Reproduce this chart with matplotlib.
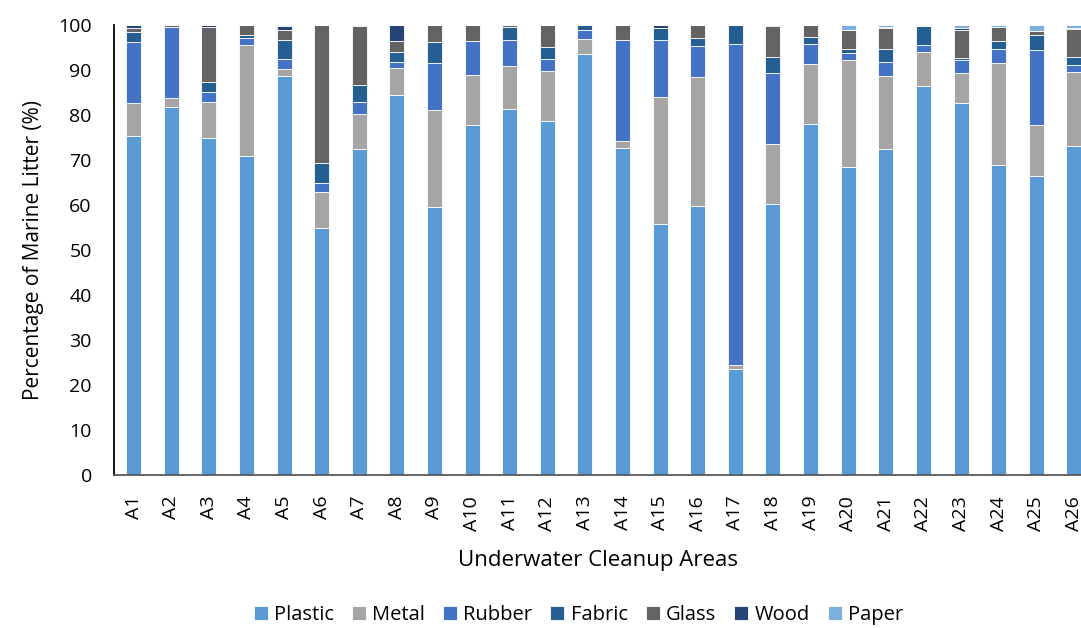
import matplotlib.pyplot as plt
import numpy as np

plt.rcParams["font.family"] = ["Open Sans", "DejaVu Sans"]

areas = ["A%d" % i for i in range(1, 27)]

plastic = [75.4, 81.7, 74.9, 71.0, 88.8, 54.8, 72.5, 84.5, 59.5, 77.7, 81.3, 78.6, 93.5,
           72.6, 55.9, 59.7, 23.5, 60.3, 78.1, 68.4, 72.4, 86.5, 82.6, 68.9, 66.4, 73.2]
metal = [7.2, 2.0, 8.0, 24.6, 1.4, 8.1, 7.8, 6.0, 21.7, 11.2, 9.6, 11.3, 3.4,
         1.7, 28.1, 28.7, 0.9, 13.3, 13.3, 23.8, 16.3, 7.5, 6.7, 22.7, 11.4, 16.3]
rubber = [13.7, 15.8, 2.2, 1.6, 2.3, 2.0, 2.6, 1.2, 10.3, 7.5, 5.8, 2.5, 2.0,
          22.5, 12.6, 7.0, 71.5, 15.7, 4.5, 1.5, 3.2, 1.6, 3.0, 3.2, 16.6, 1.6]
fabric = [2.1, 0.0, 2.2, 0.6, 4.3, 4.4, 3.7, 2.4, 4.7, 0.0, 2.9, 2.7, 1.1,
          0.0, 2.7, 1.8, 4.1, 3.7, 1.4, 0.9, 2.9, 4.2, 0.3, 1.6, 3.4, 1.9]
glass = [0.9, 0.5, 12.3, 2.2, 2.1, 30.7, 13.2, 2.3, 3.8, 3.6, 0.4, 4.9, 0.0,
         3.2, 0.0, 2.8, 0.0, 6.7, 2.7, 4.4, 4.5, 0.0, 6.4, 3.2, 0.9, 6.1]
wood = [0.7, 0.0, 0.4, 0.0, 0.8, 0.0, 0.0, 3.6, 0.0, 0.0, 0.0, 0.0, 0.0,
        0.0, 0.7, 0.0, 0.0, 0.3, 0.0, 0.0, 0.3, 0.0, 0.3, 0.0, 0.0, 0.3]
paper = [0.0, 0.0, 0.0, 0.0, 0.3, 0.0, 0.2, 0.0, 0.0, 0.0, 0.0, 0.0, 0.0,
         0.0, 0.0, 0.0, 0.0, 0.0, 0.0, 1.0, 0.4, 0.2, 0.7, 0.4, 1.3, 0.6]

series = [("Plastic", plastic, "#5B9BD5"),
          ("Metal", metal, "#A5A5A5"),
          ("Rubber", rubber, "#4472C4"),
          ("Fabric", fabric, "#255E91"),
          ("Glass", glass, "#636363"),
          ("Wood", wood, "#264478"),
          ("Paper", paper, "#7CAFDD")]

fig = plt.figure(figsize=(10.81, 6.28), dpi=100)
ax = fig.add_axes([0.1055, 0.2436, 0.8945, 0.7164])

x = np.arange(len(areas))
bottom = np.zeros(len(areas))
for name, vals, color in series:
    vals = np.array(vals)
    ax.bar(x, vals, 0.4, bottom=bottom, color=color, label=name,
           edgecolor="white", linewidth=0.6)
    bottom += vals

ax.set_xlim(-0.52, 25.19)
ax.set_ylim(0, 100)
ax.set_yticks(range(0, 101, 10))
ax.set_xticks(x)
ax.set_xticklabels(areas, rotation=90)
ax.tick_params(axis="both", length=0, labelsize=14, colors="black")
ax.tick_params(axis="y", pad=16)
ax.tick_params(axis="x", pad=15)

for s in ["top", "right"]:
    ax.spines[s].set_visible(False)
ax.spines["left"].set_color("black")
ax.spines["left"].set_linewidth(1.3)
ax.spines["bottom"].set_color("#595959")
ax.spines["bottom"].set_linewidth(1.3)

ax.set_ylabel("Percentage of Marine Litter (%)", fontsize=15, labelpad=10)
ax.set_xlabel("Underwater Cleanup Areas", fontsize=16, labelpad=14)

fig.legend(loc="center", bbox_to_anchor=(0.535, 0.02), ncol=7, frameon=False,
           fontsize=14.5, handlelength=0.7, handleheight=0.7, handletextpad=0.3,
           columnspacing=0.9)

fig.savefig("out.png", dpi=100)
